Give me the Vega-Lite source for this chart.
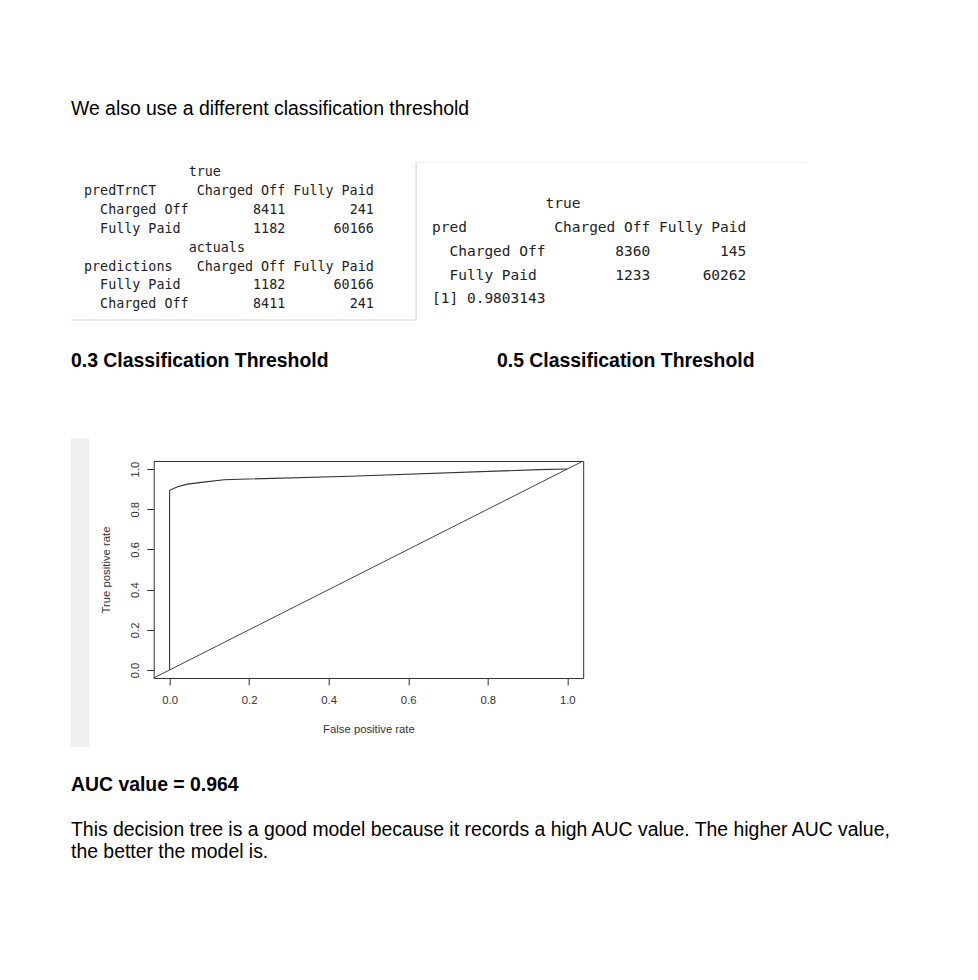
{
  "$schema": "https://vega.github.io/schema/vega-lite/v6.json",
  "background": "white",
  "padding": {"left": 70, "top": 0, "right": 0, "bottom": 0},
  "config": {"view": {"stroke": null}},
  "bounds": "full",
  "spacing": 0,
  "datasets": {
    "heading": [{"line": 1, "col": 0, "text": "We also use a different classification threshold"}],
    "table1": [
      {"line": 1, "col": 13, "text": "true"},
      {"line": 2, "col": 0, "text": "predTrnCT"},
      {"line": 2, "col": 14, "text": "Charged Off"},
      {"line": 2, "col": 26, "text": "Fully Paid"},
      {"line": 3, "col": 2, "text": "Charged Off"},
      {"line": 3, "col": 21, "text": "8411"},
      {"line": 3, "col": 33, "text": "241"},
      {"line": 4, "col": 2, "text": "Fully Paid"},
      {"line": 4, "col": 21, "text": "1182"},
      {"line": 4, "col": 31, "text": "60166"},
      {"line": 5, "col": 13, "text": "actuals"},
      {"line": 6, "col": 0, "text": "predictions"},
      {"line": 6, "col": 14, "text": "Charged Off"},
      {"line": 6, "col": 26, "text": "Fully Paid"},
      {"line": 7, "col": 2, "text": "Fully Paid"},
      {"line": 7, "col": 21, "text": "1182"},
      {"line": 7, "col": 31, "text": "60166"},
      {"line": 8, "col": 2, "text": "Charged Off"},
      {"line": 8, "col": 21, "text": "8411"},
      {"line": 8, "col": 33, "text": "241"}
    ],
    "table2": [
      {"line": 1, "col": 13, "text": "true"},
      {"line": 2, "col": 0, "text": "pred"},
      {"line": 2, "col": 14, "text": "Charged Off"},
      {"line": 2, "col": 26, "text": "Fully Paid"},
      {"line": 3, "col": 2, "text": "Charged Off"},
      {"line": 3, "col": 21, "text": "8360"},
      {"line": 3, "col": 33, "text": "145"},
      {"line": 4, "col": 2, "text": "Fully Paid"},
      {"line": 4, "col": 21, "text": "1233"},
      {"line": 4, "col": 31, "text": "60262"},
      {"line": 5, "col": 0, "text": "[1] 0.9803143"}
    ],
    "roc": [
      {"i": 0, "fpr": 0, "tpr": 0},
      {"i": 1, "fpr": 0, "tpr": 0.894},
      {"i": 2, "fpr": 0.02, "tpr": 0.912},
      {"i": 3, "fpr": 0.045, "tpr": 0.925},
      {"i": 4, "fpr": 0.085, "tpr": 0.935},
      {"i": 5, "fpr": 0.137, "tpr": 0.947},
      {"i": 6, "fpr": 0.455, "tpr": 0.964},
      {"i": 7, "fpr": 0.93, "tpr": 0.997},
      {"i": 8, "fpr": 1, "tpr": 1}
    ],
    "diag": [
      {"i": 0, "fpr": -0.04, "tpr": -0.04},
      {"i": 1, "fpr": 1.04, "tpr": 1.04}
    ]
  },
  "vconcat": [
    {
      "width": 908,
      "height": 161,
      "data": {"name": "heading"},
      "mark": {"type": "text", "align": "left", "baseline": "alphabetic", "font": "Liberation Sans", "fontSize": 19.4, "color": "#000000"},
      "encoding": {
        "x": {"field": "col", "type": "quantitative", "scale": {"domain": [0, 1], "nice": false, "zero": false}, "axis": null},
        "y": {"field": "line", "type": "quantitative", "scale": {"domain": [0, 1.4], "nice": false, "zero": false, "reverse": true}, "axis": null},
        "text": {"field": "text"}
      }
    },
    {
      "hconcat": [
        {
          "width": 345,
          "height": 158,
          "layer": [
            {
              "data": {"name": "table1"},
              "mark": {"type": "text", "align": "left", "baseline": "alphabetic", "font": "DejaVu Sans Mono", "fontSize": 13.37, "color": "#222222"},
              "encoding": {
                "x": {"field": "col", "type": "quantitative", "scale": {"domain": [-1.6149, 41.242], "nice": false, "zero": false}, "axis": null},
                "y": {"field": "line", "type": "quantitative", "scale": {"domain": [0.2593, 8.619], "nice": false, "zero": false, "reverse": true}, "axis": null},
                "text": {"field": "text"}
              }
            },
            {
              "data": {"values": [{"edge": "right"}]},
              "mark": {"type": "rule", "color": "#e6e6e6", "strokeWidth": 1.5},
              "encoding": {"x": {"value": "width"}}
            },
            {
              "data": {"values": [{"edge": "bottom"}]},
              "mark": {"type": "rule", "color": "#e6e6e6", "strokeWidth": 1.5},
              "encoding": {"y": {"value": "height"}}
            }
          ]
        },
        {
          "width": 390,
          "height": 158,
          "layer": [
            {
              "data": {"name": "table2"},
              "mark": {"type": "text", "align": "left", "baseline": "alphabetic", "font": "DejaVu Sans Mono", "fontSize": 14.5, "color": "#222222"},
              "encoding": {
                "x": {"field": "col", "type": "quantitative", "scale": {"domain": [-1.8328, 42.8407], "nice": false, "zero": false}, "axis": null},
                "y": {"field": "line", "type": "quantitative", "scale": {"domain": [-0.958, 5.695], "nice": false, "zero": false, "reverse": true}, "axis": null},
                "text": {"field": "text"}
              }
            },
            {
              "data": {"values": [{"edge": "left"}]},
              "mark": {"type": "rule", "color": "#e6e6e6", "strokeWidth": 1},
              "encoding": {"x": {"value": 0.5}}
            },
            {
              "data": {"values": [{"edge": "top"}]},
              "mark": {"type": "rule", "color": "#eeeeee", "strokeWidth": 1},
              "encoding": {"y": {"value": 0.5}}
            }
          ]
        }
      ],
      "spacing": 0,
      "bounds": "flush"
    },
    {
      "hconcat": [
        {
          "width": 426,
          "height": 117,
          "data": {"values": [{"line": 1, "col": 0, "text": "0.3 Classification Threshold"}]},
          "mark": {"type": "text", "align": "left", "baseline": "alphabetic", "font": "Liberation Sans", "fontSize": 19.4, "fontWeight": "bold", "color": "#000000"},
          "encoding": {
            "x": {"field": "col", "type": "quantitative", "scale": {"domain": [0, 1], "nice": false, "zero": false}, "axis": null},
            "y": {"field": "line", "type": "quantitative", "scale": {"domain": [0, 2.5435], "nice": false, "zero": false, "reverse": true}, "axis": null},
            "text": {"field": "text"}
          }
        },
        {
          "width": 482,
          "height": 117,
          "data": {"values": [{"line": 1, "col": 0, "text": "0.5 Classification Threshold"}]},
          "mark": {"type": "text", "align": "left", "baseline": "alphabetic", "font": "Liberation Sans", "fontSize": 19.4, "fontWeight": "bold", "color": "#000000"},
          "encoding": {
            "x": {"field": "col", "type": "quantitative", "scale": {"domain": [0, 1], "nice": false, "zero": false}, "axis": null},
            "y": {"field": "line", "type": "quantitative", "scale": {"domain": [0, 2.5435], "nice": false, "zero": false, "reverse": true}, "axis": null},
            "text": {"field": "text"}
          }
        }
      ],
      "spacing": 0,
      "bounds": "flush"
    },
    {
      "hconcat": [
        {
          "width": 18,
          "height": 309,
          "view": {"fill": "#f0f0f0", "stroke": null},
          "data": {"values": []},
          "mark": "point"
        },
        {
          "vconcat": [
            {
              "width": 430,
              "height": 23,
              "data": {"values": []},
              "mark": "point"
            },
            {
              "width": 429.5,
              "height": 217,
              "view": {"stroke": "#333333", "strokeWidth": 1},
              "encoding": {
                "x": {
                  "field": "fpr", "type": "quantitative",
                  "scale": {"domain": [-0.04, 1.04], "nice": false, "zero": false},
                  "axis": {
                    "title": "False positive rate", "values": [0, 0.2, 0.4, 0.6, 0.8, 1], "format": ".1f",
                    "grid": false, "domain": false, "tickSize": 7, "tickColor": "#333333", "tickWidth": 1,
                    "labelPadding": 9, "labelFont": "Liberation Sans", "labelFontSize": 11.3, "labelColor": "#333333",
                    "labelFlush": false, "labelOverlap": false,
                    "titleFont": "Liberation Sans", "titleFontSize": 11.3, "titleFontWeight": "normal", "titleColor": "#333333", "titlePadding": 18.5
                  }
                },
                "y": {
                  "field": "tpr", "type": "quantitative",
                  "scale": {"domain": [-0.04, 1.04], "nice": false, "zero": false},
                  "axis": {
                    "title": "True positive rate", "values": [0, 0.2, 0.4, 0.6, 0.8, 1], "format": ".1f",
                    "grid": false, "domain": false, "tickSize": 7, "tickColor": "#333333", "tickWidth": 1,
                    "labelAngle": 270, "labelAlign": "center", "labelBaseline": "bottom",
                    "labelPadding": 6.3, "labelFont": "Liberation Sans", "labelFontSize": 11.3, "labelColor": "#333333",
                    "labelFlush": false, "labelOverlap": false,
                    "titleFont": "Liberation Sans", "titleFontSize": 11.3, "titleFontWeight": "normal", "titleColor": "#333333", "titlePadding": 17.5
                  }
                }
              },
              "layer": [
                {
                  "data": {"name": "diag"},
                  "mark": {"type": "line", "color": "#444444", "strokeWidth": 1, "clip": true},
                  "encoding": {"order": {"field": "i", "type": "quantitative"}}
                },
                {
                  "data": {"name": "roc"},
                  "mark": {"type": "line", "color": "#333333", "strokeWidth": 1.1, "clip": true},
                  "encoding": {"order": {"field": "i", "type": "quantitative"}}
                }
              ]
            }
          ],
          "spacing": 0,
          "bounds": "flush"
        }
      ],
      "spacing": 64.7,
      "bounds": "flush"
    },
    {
      "width": 908,
      "height": 58,
      "data": {"values": [{"line": 1, "col": 0, "text": "AUC value = 0.964"}]},
      "mark": {"type": "text", "align": "left", "baseline": "alphabetic", "font": "Liberation Sans", "fontSize": 19.4, "fontWeight": "bold", "color": "#000000"},
      "encoding": {
        "x": {"field": "col", "type": "quantitative", "scale": {"domain": [0, 1], "nice": false, "zero": false}, "axis": null},
        "y": {"field": "line", "type": "quantitative", "scale": {"domain": [0, 1.31818], "nice": false, "zero": false, "reverse": true}, "axis": null},
        "text": {"field": "text"}
      }
    },
    {
      "width": 908,
      "height": 170,
      "data": {"values": [
        {"line": 1, "col": 0, "text": "This decision tree is a good model because it records a high AUC value. The higher AUC value,"},
        {"line": 2, "col": 0, "text": "the better the model is."}
      ]},
      "mark": {"type": "text", "align": "left", "baseline": "alphabetic", "font": "Liberation Sans", "fontSize": 19.4, "color": "#000000"},
      "encoding": {
        "x": {"field": "col", "type": "quantitative", "scale": {"domain": [0, 1], "nice": false, "zero": false}, "axis": null},
        "y": {"field": "line", "type": "quantitative", "scale": {"domain": [-0.40909, 7.31818], "nice": false, "zero": false, "reverse": true}, "axis": null},
        "text": {"field": "text"}
      }
    }
  ]
}
